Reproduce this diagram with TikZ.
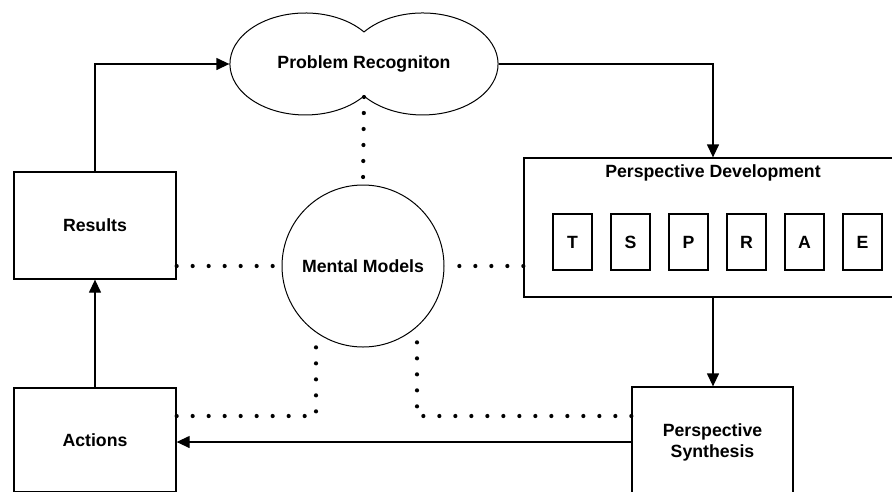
\documentclass[tikz,border=0pt]{standalone}
\usepackage{fontspec}
\setmainfont{Liberation Sans}
\usetikzlibrary{arrows.meta, calc}
\tikzset{box/.style={draw, line width=1.3pt, rectangle,
    font=\fontsize{17.7}{21}\selectfont\bfseries, align=center},
  letterbox/.style={box, line width=1.1pt, minimum width=39, minimum height=56},
  flow/.style={line width=1.3pt, -{Triangle[length=13pt,width=12pt]}},
  dots/.style={line width=4.2pt, line cap=round, dash pattern=on 0pt off 16pt}
}

\begin{document}
\begin{tikzpicture}[x=1pt, y=-1pt]
  \useasboundingbox (0,0) rectangle (892,491);
  % boxes
  \node[box, minimum width=162, minimum height=107] (res) at (95,225.5) {Results};
  \node[box, minimum width=162, minimum height=104] (act) at (95,440) {Actions};
  \node[box, minimum width=161, minimum height=110] (ps) at (712.5,442) {Perspective\\Synthesis};
  \node[box, minimum width=378, minimum height=139] (pd) at (713,227.5) {};
  \node[box, draw=none] (pdtitle) at (713,173) {Perspective Development};
  \node[letterbox] (t) at (572.5,242) {T};
  \node[letterbox] (s) at (630.5,242) {S};
  \node[letterbox] (p) at (688.5,242) {P};
  \node[letterbox] (r) at (746.5,242) {R};
  \node[letterbox] (a) at (804.5,242) {A};
  \node[letterbox] (e) at (862.5,242) {E};
  \node[box, circle, line width=1pt, minimum size=162] (mm) at (363,266) {Mental Models};
  % cloud
  \node[box, draw=none, minimum width=268, minimum height=102] (prob) at (364,64) {Problem Recogniton};
  \draw[line width=1pt] ([yshift=-32pt]prob.center)
    arc[start angle=38.9, end angle=321.1, x radius=75.4, y radius=51]
    arc[start angle=218.9, end angle=501.1, x radius=75.4, y radius=51] -- cycle;
  % flow
  \draw[flow] (res.north) |- (prob.west);
  \draw[flow] (prob.east) -| (pd.north);
  \draw[flow] (pd.south) -- (pd.south |- ps.north);
  \draw[flow] (ps.west) -- (ps.west -| act.east);
  \draw[flow] (act.north) -- (res.south);
  % dotted links
  \coordinate (mmleft) at (316,346);
  \coordinate (mmright) at (417,340);
  \draw[dots] ([yshift=-33pt]prob.center) -- (mm.north);
  \draw[dots] (mm.west -| res.east) -- (mm.west);
  \draw[dots] (mm.east -| pd.west) -- (mm.east);
  \draw[dots] ([yshift=24pt]act.east) -| (mmleft);
  \draw[dots] ([yshift=26pt]ps.west) -| (mmright);
\end{tikzpicture}
\end{document}
